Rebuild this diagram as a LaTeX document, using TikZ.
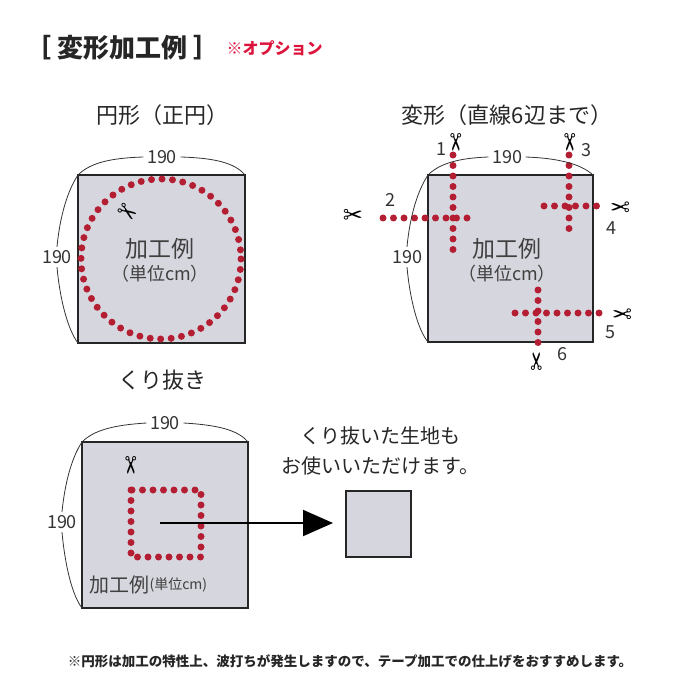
\documentclass[tikz,border=0pt]{standalone}
\usepackage{fontspec}
\setmainfont{Noto Sans CJK JP}
\newfontfamily\symfont{DejaVu Sans}
\usetikzlibrary{arrows.meta}
\definecolor{panel}{RGB}{214,214,222}
\definecolor{cutred}{RGB}{180,30,50}
\definecolor{optred}{RGB}{220,20,60}
\tikzset{
  panel/.style={draw=black!85, line width=2.2pt, fill=panel},
  cut/.style={cutred, line width=7pt, line cap=round, dash pattern=on 0pt off 10.5pt},
  dim/.style={black!80, line width=0.8pt},
  num/.style={font=\fontsize{18}{18}\selectfont, text=black!80},
  head/.style={font=\fontsize{22}{22}\selectfont, text=black!85},
  inner/.style={font=\fontsize{23}{23}\selectfont, text=black!75},
  unit/.style={font=\fontsize{18}{18}\selectfont, text=black!75},
  scis/.style={font=\symfont\fontsize{24}{24}\selectfont},
}
\begin{document}
\begin{tikzpicture}[x=1pt, y=-1pt]
    \useasboundingbox (0,0) rectangle (700,700);
    % header
    \node[anchor=west, font=\bfseries\fontsize{26}{26}\selectfont, text=black!85] (title) at (22,48) {［ 変形加工例 ］};
    \node[anchor=west, font=\bfseries\fontsize{16}{16}\selectfont, text=optred] (opt) at (title.east) {※オプション};
    % circle
    \node[head] (h1) at (162,115) {円形（正円）};
    \draw[panel] (78,175) rectangle (245,343);
    \draw[cut] (161,259) circle (80);
    \node[inner] (c1) at (160,249) {加工例};
    \node[unit] (u1) at (160,274) {（単位cm）};
    \node[scis, rotate=-35] (s1) at (127,213) {✂};
    \node[num] (w1) at (162,157) {190};
    \draw[dim] (78,175) .. controls (90,163) and (110,158) .. (w1.west);
    \draw[dim] (w1.east) .. controls (215,158) and (235,163) .. (245,175);
    \node[num] (d1) at (57,257) {190};
    \draw[dim] (78,175) .. controls (68,190) and (60,215) .. (d1.north);
    \draw[dim] (d1.south) .. controls (60,300) and (68,330) .. (78,343);
    % polygon
    \node[head] (h2) at (507,115) {変形（直線6辺まで）};
    \draw[panel] (428,175) rectangle (593,342);
    \draw[cut] (453,155) -- (453,250);
    \draw[cut] (383,218) -- (470,218);
    \draw[cut] (569,155) -- (569,230);
    \draw[cut] (544,206) -- (606,206);
    \draw[cut] (515,313) -- (606,313);
    \draw[cut] (538,290) -- (538,345);
    \node[inner] (c2) at (507,249) {加工例};
    \node[unit] (u2) at (507,274) {（単位cm）};
    \node[num] (n1) at (441,149) {1};
    \node[scis, rotate=-90] (s21) at (455,143) {✂};
    \node[num] (n3) at (586,150) {3};
    \node[scis, rotate=-90] (s23) at (569,143) {✂};
    \node[num] (n2) at (390,200) {2};
    \node[scis] (s22) at (353,216) {✂};
    \node[num] (n4) at (611,228) {4};
    \node[scis, rotate=180] (s24) at (620,206) {✂};
    \node[num] (n5) at (610,332) {5};
    \node[scis, rotate=180] (s25) at (622,313) {✂};
    \node[num] (n6) at (562,354) {6};
    \node[scis, rotate=90] (s26) at (538,361) {✂};
    \node[num] (w2) at (507,157) {190};
    \draw[dim] (428,175) .. controls (440,163) and (460,158) .. (w2.west);
    \draw[dim] (w2.east) .. controls (555,158) and (580,163) .. (593,175);
    \node[num] (d2) at (407,257) {190};
    \draw[dim] (428,175) .. controls (418,190) and (410,215) .. (d2.north);
    \draw[dim] (d2.south) .. controls (410,300) and (418,330) .. (428,342);
    % hollow
    \node[head] (h3) at (162,380) {くり抜き};
    \draw[panel] (82,442) rectangle (248,608);
    \draw[cut] (131,490) rectangle (201,557);
    \node[scis, rotate=-90] (s3) at (130,466) {✂};
    \node[inner, anchor=west, inner sep=0pt, font=\fontsize{20}{20}\selectfont] (c3) at (89,585) {加工例};
    \node[unit, anchor=west, inner sep=0pt, font=\fontsize{14}{14}\selectfont] (u3) at (c3.east) {(単位cm)};
    \coordinate (a0) at (160,523);
    \draw[panel] (346,491) rectangle (411,557);
    \coordinate (a1) at (333,523);
    \draw[line width=2pt, -{Triangle[length=30pt, width=26pt]}] (a0) -- (a1);
    \node[head, font=\fontsize{20}{20}\selectfont] (t1) at (380,436) {くり抜いた生地も};
    \node[head, font=\fontsize{20}{20}\selectfont] (t2) at (380,466) {お使いいただけます。};
    \node[num] (w3) at (165,423) {190};
    \draw[dim] (82,442) .. controls (94,430) and (114,425) .. (w3.west);
    \draw[dim] (w3.east) .. controls (218,425) and (238,430) .. (248,442);
    \node[num] (d3) at (62,522) {190};
    \draw[dim] (82,442) .. controls (72,457) and (65,482) .. (d3.north);
    \draw[dim] (d3.south) .. controls (65,565) and (72,595) .. (82,608);
    % footer
    \node[font=\bfseries\fontsize{13.5}{13.5}\selectfont, text=black!85] (foot) at (350,661) {※円形は加工の特性上、波打ちが発生しますので、テープ加工での仕上げをおすすめします。};
\end{tikzpicture}
\end{document}
